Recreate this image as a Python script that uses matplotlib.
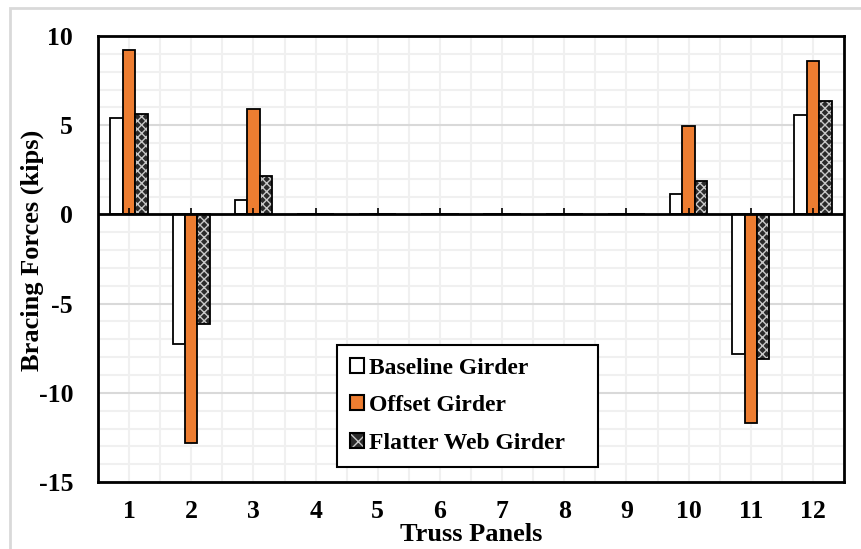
import numpy as np
import matplotlib
matplotlib.use("Agg")
import matplotlib.pyplot as plt
from matplotlib.patches import Patch, Rectangle
from matplotlib.legend_handler import HandlerTuple

# data
panels = [1, 2, 3, 4, 5, 6, 7, 8, 9, 10, 11, 12]
baseline = [5.4, -7.25, 0.8, 0, 0, 0, 0, 0, 0, 1.15, -7.8, 5.55]
offset = [9.2, -12.8, 5.9, 0, 0, 0, 0, 0, 0, 4.95, -11.7, 8.6]
flatter = [5.65, -6.15, 2.15, 0, 0, 0, 0, 0, 0, 1.9, -8.1, 6.35]
labels = ["Baseline Girder", "Offset Girder", "Flatter Web Girder"]

orange = "#ED7D31"
plt.rcParams['font.family'] = ['Liberation Serif', 'DejaVu Serif']
plt.rcParams['font.weight'] = 'bold'
plt.rcParams['axes.unicode_minus'] = False


def run():
    fig = plt.figure(figsize=(8.62, 5.49), dpi=100)
    ax = fig.add_axes([0.1137, 0.122, 0.8655, 0.8124])

    x = np.array(panels)
    w = 0.2

    ax.bar(x - w, baseline, w, facecolor="white", edgecolor="black",
           linewidth=1.3, zorder=2)
    ax.bar(x, offset, w, facecolor=orange, edgecolor="black",
           linewidth=1.3, zorder=2)
    # hatched bars: pattern layer, then black outline on top
    ax.bar(x + w, flatter, w, facecolor="#2a2a2a", edgecolor="#c8c8c8",
           hatch="xxxx", linewidth=0, zorder=2)
    ax.bar(x + w, flatter, w, fill=False, edgecolor="black",
           linewidth=1.3, zorder=2)

    # zero line with small category ticks
    ax.axhline(0, color="black", linewidth=2, zorder=3)
    ax.plot(x, np.zeros(len(x)), linestyle="none", marker=2,
            markersize=4, markeredgewidth=1.2, color="black", zorder=4)

    ax.set_xlim(0.5, 12.5)
    ax.set_ylim(-15, 10)
    ax.set_xticks(panels)
    ax.set_xticks(np.arange(0.5, 13, 1), minor=True)
    ax.set_yticks(np.arange(-15, 11, 5))
    ax.set_yticks(np.arange(-15, 11, 1), minor=True)
    ax.tick_params(axis="both", which="both", length=0, labelsize=18.5)
    ax.tick_params(axis="x", pad=13)
    ax.tick_params(axis="y", pad=18)

    ax.set_axisbelow(True)
    ax.grid(axis="y", which="major", color="#d9d9d9", linewidth=1.5)
    ax.grid(axis="y", which="minor", color="#f0f0f0", linewidth=1.5)
    ax.grid(axis="x", which="both", color="#f0f0f0", linewidth=1.5)

    for s in ax.spines.values():
        s.set_linewidth(2)
        s.set_color("black")

    ax.set_xlabel("Truss Panels", fontsize=19, fontweight="bold", va="top")
    ax.xaxis.set_label_coords(0.5, -0.092)
    ax.set_ylabel("Bracing Forces (kips)", fontsize=19, fontweight="bold",
                  va="center")
    ax.yaxis.set_label_coords(-0.088, 0.52)

    handles = [
        Patch(facecolor="white", edgecolor="black", linewidth=1.5),
        Patch(facecolor=orange, edgecolor="black", linewidth=1.5),
        (Patch(facecolor="#2a2a2a", edgecolor="#c8c8c8", hatch="xx", linewidth=0),
         Patch(fill=False, edgecolor="black", linewidth=1.5)),
    ]
    leg = ax.legend(handles, labels, loc="upper left",
                    bbox_to_anchor=(0.32, 0.043, 0.35, 0.265),
                    mode="expand", fancybox=False, framealpha=1,
                    edgecolor="black", fontsize=17,
                    handler_map={tuple: HandlerTuple(ndivide=1, pad=0)},
                    handlelength=0.6, handleheight=0.6, handletextpad=0.2,
                    labelspacing=0.7, borderpad=0.55, borderaxespad=0)
    leg.get_frame().set_linewidth(1.5)

    # light outer border of the figure
    fig.patches.append(Rectangle((0.0116, -0.1), 1.2, 1.0854, fill=False,
                                 edgecolor="#d9d9d9", linewidth=2,
                                 transform=fig.transFigure))

    fig.savefig("out.png", dpi=100)


run()
